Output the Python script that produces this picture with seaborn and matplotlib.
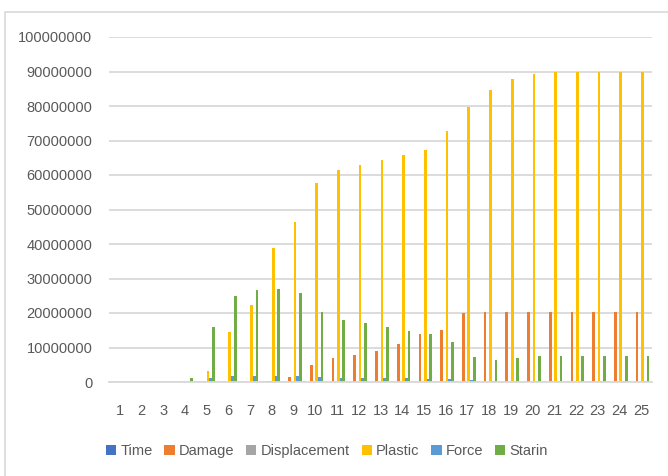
import matplotlib
matplotlib.use("Agg")
import matplotlib.pyplot as plt
from matplotlib.patches import Rectangle
import numpy as np
import pandas as pd
import seaborn as sns

steps = [str(i) for i in range(1, 26)]
series_names = ["Time", "Damage", "Displacement", "Plastic", "Force", "Starin"]

time_vals = [0] * 25
damage = [0, 0, 0, 0, 0, 0, 0, 300000, 1500000, 4800000,
          7000000, 7900000, 9000000, 11000000, 13900000, 15000000, 20000000, 20200000, 20200000, 20200000,
          20200000, 20200000, 20200000, 20200000, 20200000]
displacement = [0, 0, 0, 0, 0, 0, 0, 300000, 0, 0,
                0, 0, 0, 0, 0, 0, 0, 0, 0, 0,
                0, 0, 0, 0, 0]
plastic = [0, 0, 0, 0, 3200000, 14500000, 22300000, 38700000, 46300000, 57800000,
           61500000, 62800000, 64300000, 65800000, 67200000, 72800000, 79800000, 84500000, 87800000, 89300000,
           90000000, 90000000, 90000000, 90000000, 90000000]
force = [0, 0, 0, 0, 1200000, 1600000, 1700000, 1700000, 1700000, 1400000,
         1200000, 1200000, 1200000, 1200000, 1000000, 900000, 500000, 400000, 400000, 400000,
         400000, 400000, 400000, 400000, 400000]
starin = [0, 0, 0, 1200000, 16000000, 24800000, 26800000, 27100000, 25700000, 20300000,
          17900000, 17200000, 16000000, 14700000, 13800000, 11700000, 7200000, 6300000, 7100000, 7400000,
          7400000, 7400000, 7400000, 7400000, 7400000]

colors = ["#4472C4", "#ED7D31", "#A5A5A5", "#FFC000", "#5B9BD5", "#70AD47"]

series_values = [time_vals, damage, displacement, plastic, force, starin]
df = pd.DataFrame({
    "step": np.tile(steps, len(series_names)),
    "series": np.repeat(series_names, len(steps)),
    "value": np.concatenate(series_values),
})

sns.set_theme(style="white")
plt.rcParams["font.family"] = ["Liberation Sans", "DejaVu Sans"]

fig = plt.figure(figsize=(6.68, 4.76), dpi=100)
ax = fig.add_axes([109 / 668, 94 / 476, (652 - 109) / 668, (382 - 37) / 476])

sns.barplot(data=df, x="step", y="value", hue="series", order=steps,
            hue_order=series_names, palette=colors, width=0.75,
            saturation=1, errorbar=None, ax=ax, legend=False,
            linewidth=0, edgecolor="none")

ax.set_xlim(-0.5, 24.5)
ax.set_ylim(0, 100000000)
ax.set_yticks(np.arange(0, 100000001, 10000000))
ax.set_yticklabels([f"{int(v)}" for v in np.arange(0, 100000001, 10000000)])
ax.set_xlabel("")
ax.set_ylabel("")
ax.yaxis.grid(True, color="#D9D9D9", linewidth=1.3)
ax.set_axisbelow(True)
for side in ["top", "right", "left"]:
    ax.spines[side].set_visible(False)
ax.spines["bottom"].set_color("#D9D9D9")
ax.spines["bottom"].set_linewidth(1.3)
ax.tick_params(axis="both", length=0, colors="#595959", labelsize=10.5)
ax.tick_params(axis="x", pad=16)
ax.tick_params(axis="y", pad=12)

handles = [Rectangle((0, 0), 1, 1, facecolor=c, edgecolor="none") for c in colors]
fig.legend(handles, series_names, loc="center", bbox_to_anchor=(327 / 668, 1 - 451 / 476),
           ncol=6, frameon=False, handlelength=0.7, handleheight=0.7,
           handletextpad=0.3, columnspacing=0.8, fontsize=10.5, labelcolor="#595959")

# thin frame around the chart area
fig.patches.append(Rectangle((5 / 668, -0.1), 1.2, 1.1 - 12 / 476,
                             transform=fig.transFigure, fill=False,
                             edgecolor="#D9D9D9", linewidth=1.2))

fig.savefig("out.png", dpi=100)
